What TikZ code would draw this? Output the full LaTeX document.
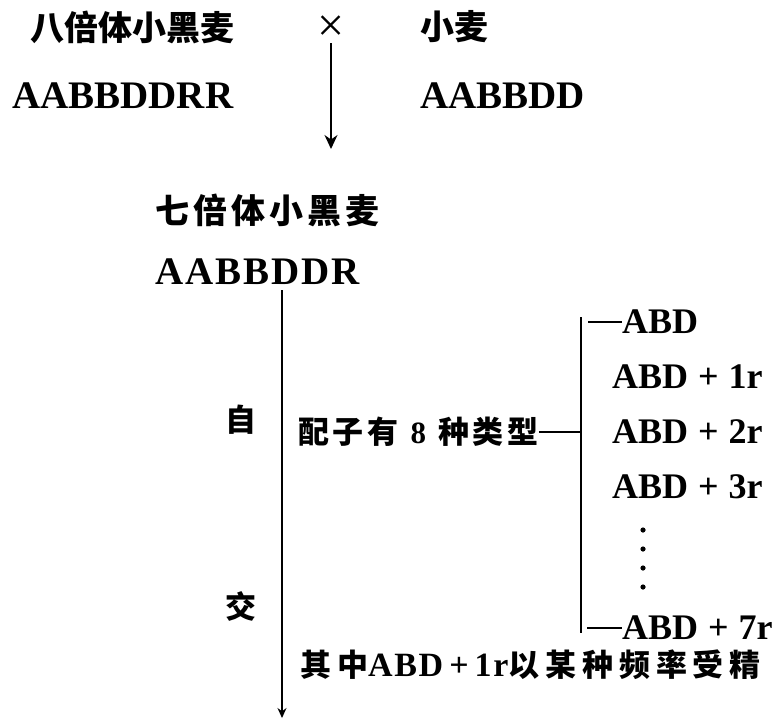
\documentclass[tikz,border=0pt]{standalone}
\usepackage{fontspec}
\setmainfont{Liberation Serif}
\newfontfamily\cjk{Noto Sans CJK SC}
\newfontfamily\cjksp{Noto Sans CJK SC}[LetterSpace=12]
\newfontfamily\cjkw{Noto Sans CJK SC}[LetterSpace=19]
\newfontfamily\latsp{Liberation Serif}[LetterSpace=5]
\usetikzlibrary{arrows.meta}
\newcommand{\pl}{\hspace{10pt}+\hspace{10pt}}
\tikzset{
  cn/.style={anchor=west, inner sep=0pt, font=\cjk\bfseries\fontsize{34}{34}\selectfont},
  cnm/.style={anchor=west, inner sep=0pt, font=\cjksp\bfseries\fontsize{31}{31}\selectfont},
  gen/.style={anchor=west, inner sep=0pt, font=\bfseries\fontsize{39}{39}\selectfont},
  gam/.style={anchor=west, inner sep=0pt, font=\bfseries\fontsize{36}{36}\selectfont},
  ln/.style={line width=1.6pt},
  arr/.style={line width=1.8pt, -{Stealth[length=14pt,width=13pt]}},
  sarr/.style={line width=1.2pt, -{Stealth[length=10pt,width=9pt]}}
}
\begin{document}
\begin{tikzpicture}[x=1pt,y=-1pt]
\useasboundingbox (0,0) rectangle (781,720);
% top row
\node[cn] (oct) at (30,27) {八倍体小黑麦};
\node[inner sep=1pt, font=\fontsize{48}{48}\selectfont] (cross) at (331,29) {×};
\node[cn] (wheat) at (420,27) {小麦};
\node[gen] (octg) at (12,96) {AABBDDRR};
\node[gen] (wheatg) at (420,96) {AABBDD};
\coordinate (a1) at (331,149);
\draw[arr] (cross.south) -- (a1);
% heptaploid
\node[cn, font=\cjksp\bfseries\fontsize{34}{34}\selectfont] (hept) at (155,210) {七倍体小黑麦};
\node[gen, font=\latsp\bfseries\fontsize{39}{39}\selectfont] (heptg) at (155,272) {AABBDDR};
\coordinate (mtop) at (282,290);
\coordinate (mbot) at (282,718);
\draw[sarr] (mtop) -- (mbot);
\node[cnm, anchor=center] (zi) at (241,420) {自};
\node[cnm, anchor=center] (jiao) at (241,606) {交};
% gametes
\node[cnm] (gamt) at (298,432) {配子有\hspace*{12pt}{\rmfamily\bfseries 8}\hspace*{12pt}种类型};
\coordinate (btop) at (581,317);
\coordinate (bbot) at (581,633);
\coordinate (bmid) at (581,432);
\draw[ln] (btop) -- (bbot);
\draw[ln] (gamt.east) -- (bmid);
\node[gam] (g0) at (622,322) {ABD};
\node[gam] (g1) at (612,377) {ABD\pl 1r};
\node[gam] (g2) at (612,432) {ABD\pl 2r};
\node[gam] (g3) at (612,487) {ABD\pl 3r};
\node[gam] (g7) at (622,628) {ABD\pl 7r};
\draw[ln] (btop |- g0.west) ++(7,0) -- (g0.west);
\draw[ln] (bbot |- g7.west) ++(6,0) -- (g7.west);
\foreach \yy in {530,549,568,587} \fill (643,\yy) circle (2.6pt);
% bottom
\node[cnm, font=\cjkw\bfseries\fontsize{31}{31}\selectfont] (bot) at (300,665) {其中{\latsp\bfseries\fontsize{34}{34}\selectfont ABD\hspace{6pt}+\hspace{6pt}1r}以某种频率受精};
\end{tikzpicture}
\end{document}
